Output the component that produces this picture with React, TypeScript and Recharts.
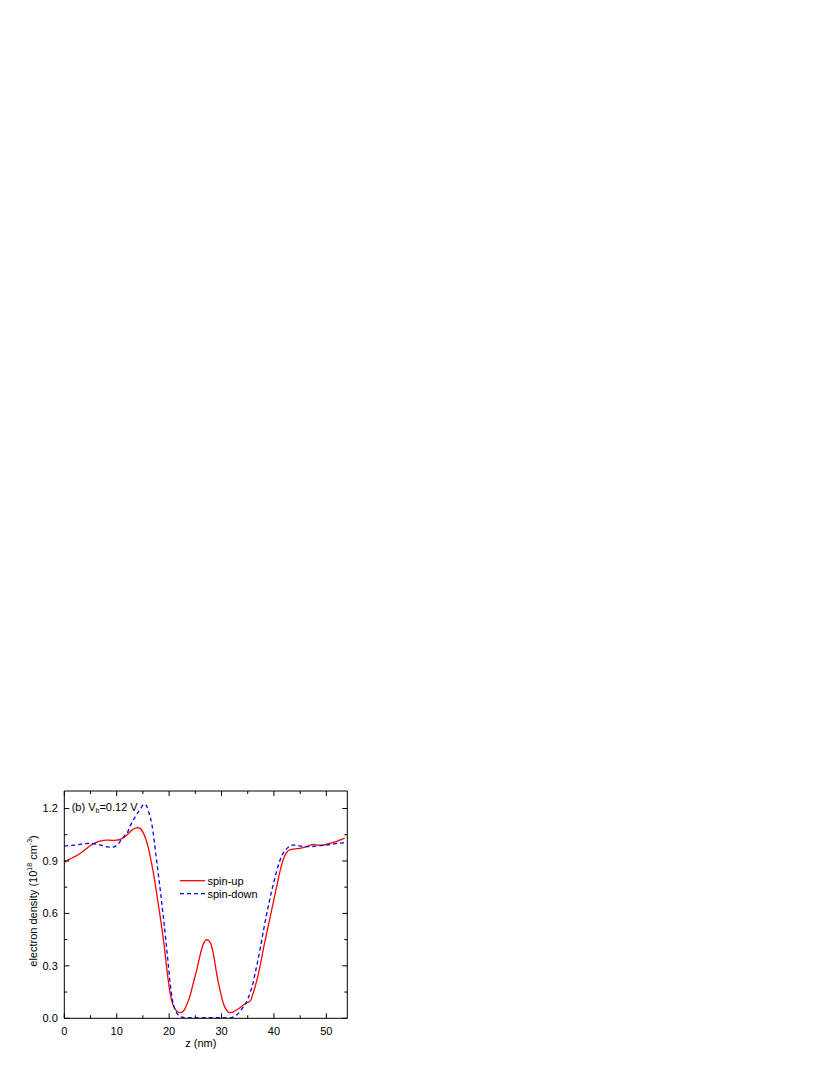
import React from 'react';
import { LineChart, Line, XAxis, YAxis } from 'recharts';

const zUp = [0, 1, 2, 3, 4, 5, 6, 7, 8, 9, 10, 11, 12, 13, 14, 14.5, 15, 15.5, 16, 16.5, 17, 17.5, 18, 18.5, 19, 19.5, 20, 20.5, 21, 21.5, 22.1, 22.7, 23.4, 24, 24.6, 25.3, 25.9, 26.6, 27.2, 27.9, 28.5, 29.1, 29.8, 30.4, 31, 31.5, 32, 32.5, 33, 33.5, 34, 34.5, 35, 35.5, 36, 36.5, 37, 37.5, 38, 38.5, 39, 39.5, 40, 40.5, 41, 41.5, 42, 42.5, 43, 43.5, 44.3, 45, 46, 47, 47.5, 48.5, 49.4, 50, 51, 52, 52.9, 53.5];
const spinUp = [0.893, 0.91, 0.925, 0.943, 0.965, 0.988, 1.005, 1.015, 1.019, 1.018, 1.019, 1.028, 1.05, 1.078, 1.09, 1.085, 1.065, 1.03, 0.98, 0.91, 0.83, 0.74, 0.64, 0.54, 0.43, 0.3, 0.18, 0.1, 0.06, 0.04, 0.032, 0.04, 0.08, 0.13, 0.2, 0.28, 0.36, 0.43, 0.45, 0.43, 0.36, 0.25, 0.15, 0.08, 0.045, 0.032, 0.034, 0.042, 0.05, 0.06, 0.072, 0.082, 0.09, 0.1, 0.14, 0.19, 0.25, 0.32, 0.4, 0.47, 0.54, 0.61, 0.68, 0.75, 0.82, 0.88, 0.925, 0.952, 0.963, 0.967, 0.97, 0.972, 0.98, 0.99, 0.994, 0.99, 0.99, 0.995, 1.003, 1.012, 1.023, 1.03];

const zDown = [0, 1, 2, 3, 4, 5, 6, 7, 8, 9, 9.5, 10, 10.5, 11, 11.5, 12, 12.5, 13, 13.5, 14, 14.4, 14.8, 15.3, 15.7, 16.2, 16.7, 17.1, 17.5, 18, 18.4, 18.9, 19.4, 19.8, 20.2, 20.6, 21, 21.5, 22, 22.5, 23, 25, 27, 29, 31, 32, 32.5, 33, 33.5, 34, 34.5, 35, 35.5, 36, 36.5, 37, 37.5, 38, 38.5, 39, 39.5, 40, 40.5, 41, 41.5, 42, 42.5, 43, 43.5, 44, 45, 46, 47, 48, 49, 50, 51, 52, 53.5];
const spinDown = [0.985, 0.988, 0.99, 0.995, 0.999, 1.0, 0.997, 0.99, 0.982, 0.978, 0.98, 0.99, 1.005, 1.025, 1.045, 1.06, 1.095, 1.125, 1.15, 1.175, 1.19, 1.21, 1.225, 1.215, 1.17, 1.11, 1.03, 0.93, 0.81, 0.71, 0.58, 0.44, 0.32, 0.2, 0.11, 0.06, 0.028, 0.012, 0.006, 0.004, 0.003, 0.004, 0.004, 0.003, 0.005, 0.012, 0.022, 0.038, 0.058, 0.08, 0.11, 0.15, 0.2, 0.27, 0.34, 0.42, 0.5, 0.58, 0.65, 0.72, 0.78, 0.84, 0.89, 0.93, 0.955, 0.972, 0.985, 0.99, 0.99, 0.985, 0.982, 0.982, 0.985, 0.988, 0.99, 0.995, 1.0, 1.003];

const xMajor = [0, 10, 20, 30, 40, 50];
const xMinor = [5, 15, 25, 35, 45];
const yMajor = [0, 0.3, 0.6, 0.9, 1.2];
const yMinor = [0.15, 0.45, 0.75, 1.05];

const seriesNames = ['spin-up', 'spin-down'];
const seriesColors = ['#ff0000', '#0000ff'];

const upData = zUp.map((z, i) => ({ z, v: spinUp[i] }));
const downData = zDown.map((z, i) => ({ z, v: spinDown[i] }));
const xTicks = [...xMajor, ...xMinor].sort((a, b) => a - b);
const yTicks = [...yMajor, ...yMinor].sort((a, b) => a - b);

const FONT = 'Arial, "Liberation Sans", sans-serif';
const MAJ = 5;
const MIN = 3;

const isMajorX = (v: number) => xMajor.some((m) => Math.abs(m - v) < 1e-6);
const isMajorY = (v: number) => yMajor.some((m) => Math.abs(m - v) < 1e-6);

const BottomTick = (props: any) => {
  const { x, y, payload } = props;
  const v = payload.value;
  const major = isMajorX(v);
  return (
    <g>
      <line x1={x} x2={x} y1={y} y2={y - (major ? MAJ : MIN)} stroke="#000" strokeWidth={1} />
      {major && (
        <text x={x} y={y + 12.5} textAnchor="middle" dominantBaseline="central" fontSize={11} fontFamily={FONT} fill="#000">
          {v}
        </text>
      )}
    </g>
  );
};

const TopTick = (props: any) => {
  const { x, y, payload } = props;
  const major = isMajorX(payload.value);
  return <line x1={x} x2={x} y1={y} y2={y + (major ? MAJ : MIN)} stroke="#000" strokeWidth={1} />;
};

const LeftTick = (props: any) => {
  const { x, y, payload } = props;
  const v = payload.value;
  const major = isMajorY(v);
  return (
    <g>
      <line x1={x} x2={x + (major ? MAJ : MIN)} y1={y} y2={y} stroke="#000" strokeWidth={1} />
      {major && (
        <text x={x - 6.5} y={y} textAnchor="end" dominantBaseline="central" fontSize={11} fontFamily={FONT} fill="#000">
          {v.toFixed(1)}
        </text>
      )}
    </g>
  );
};

const RightTick = (props: any) => {
  const { x, y, payload } = props;
  const major = isMajorY(payload.value);
  return <line x1={x} x2={x - (major ? MAJ : MIN)} y1={y} y2={y} stroke="#000" strokeWidth={1} />;
};

const XLabel = (props: any) => {
  const { viewBox } = props;
  const cx = viewBox.x + viewBox.width / 2 - 5;
  return (
    <text x={cx} y={viewBox.y + 25} textAnchor="middle" dominantBaseline="central" fontSize={11} fontFamily={FONT} fill="#000">
      z (nm)
    </text>
  );
};

const YLabel = () => {
  const cx = 33.3;
  const cy = 131;
  return (
    <text transform={`translate(${cx},${cy}) rotate(-90)`} textAnchor="middle" dominantBaseline="central" fontSize={11} fontFamily={FONT} fill="#000">
      electron density (10
      <tspan fontSize={7} dy={-4}>18</tspan>
      <tspan dy={4}> cm</tspan>
      <tspan fontSize={7} dy={-4}>-3</tspan>
      <tspan dy={4}>)</tspan>
    </text>
  );
};

const LegendBox = () => (
  <svg width={110} height={30} style={{ position: 'absolute', left: 180, top: 104, overflow: 'visible' }}>
    {seriesNames.map((n, i) => (
      <g key={n}>
        <line
          x1={0}
          x2={25}
          y1={6.7 + i * 13}
          y2={6.7 + i * 13}
          stroke={seriesColors[i]}
          strokeWidth={1.3}
          strokeDasharray={i === 1 ? '4 3' : undefined}
        />
        <text x={27.5} y={6.7 + i * 13} dominantBaseline="central" fontSize={11} fontFamily={FONT} fill="#000">
          {n}
        </text>
      </g>
    ))}
  </svg>
);

export default function App() {
  return (
    <div style={{ position: 'relative', width: 822, height: 1059 }}>
      <div style={{ position: 'absolute', left: -8, top: 762, width: 400, height: 290 }}>
        <LineChart width={400} height={290} margin={{ top: 20, right: 51.7, bottom: 1.7, left: 20.3 }}>
          <XAxis
            xAxisId="bottom"
            dataKey="z"
            type="number"
            domain={[0, 54]}
            ticks={xTicks}
            interval={0}
            tick={<BottomTick />}
            tickSize={0}
            tickMargin={0}
            tickLine={false}
            height={40}
            axisLine={{ stroke: '#000', strokeWidth: 1 }}
            allowDataOverflow
            label={<XLabel />}
          />
          <XAxis
            xAxisId="top"
            orientation="top"
            dataKey="z"
            type="number"
            domain={[0, 54]}
            ticks={xTicks}
            interval={0}
            tick={<TopTick />}
            tickSize={0}
            tickMargin={0}
            tickLine={false}
            height={1}
            axisLine={{ stroke: '#000', strokeWidth: 1 }}
            allowDataOverflow
          />
          <YAxis
            yAxisId="left"
            type="number"
            domain={[0, 1.3]}
            ticks={yTicks}
            interval={0}
            tick={<LeftTick />}
            tickSize={0}
            tickMargin={0}
            tickLine={false}
            width={44}
            axisLine={{ stroke: '#000', strokeWidth: 1 }}
            allowDataOverflow
            label={<YLabel />}
          />
          <YAxis
            yAxisId="right"
            orientation="right"
            type="number"
            domain={[0, 1.3]}
            ticks={yTicks}
            interval={0}
            tick={<RightTick />}
            tickSize={0}
            tickMargin={0}
            tickLine={false}
            width={1}
            axisLine={{ stroke: '#000', strokeWidth: 1 }}
            allowDataOverflow
          />
          <Line
            xAxisId="bottom"
            yAxisId="left"
            data={upData}
            dataKey="v"
            type="monotone"
            stroke={seriesColors[0]}
            strokeWidth={1.3}
            dot={false}
            isAnimationActive={false}
          />
          <Line
            xAxisId="bottom"
            yAxisId="left"
            data={downData}
            dataKey="v"
            type="monotone"
            stroke={seriesColors[1]}
            strokeWidth={1.3}
            strokeDasharray="4 3"
            dot={false}
            isAnimationActive={false}
          />
        </LineChart>
        <LegendBox />
        <div
          style={{
            position: 'absolute',
            left: 71.7,
            top: 31,
            fontFamily: FONT,
            fontSize: 11,
            lineHeight: '12px',
            color: '#000',
            whiteSpace: 'nowrap',
          }}
        >
          (b) V<sub style={{ fontSize: 7, verticalAlign: 'baseline', position: 'relative', top: 2 }}>b</sub>=0.12 V
        </div>
      </div>
    </div>
  );
}
